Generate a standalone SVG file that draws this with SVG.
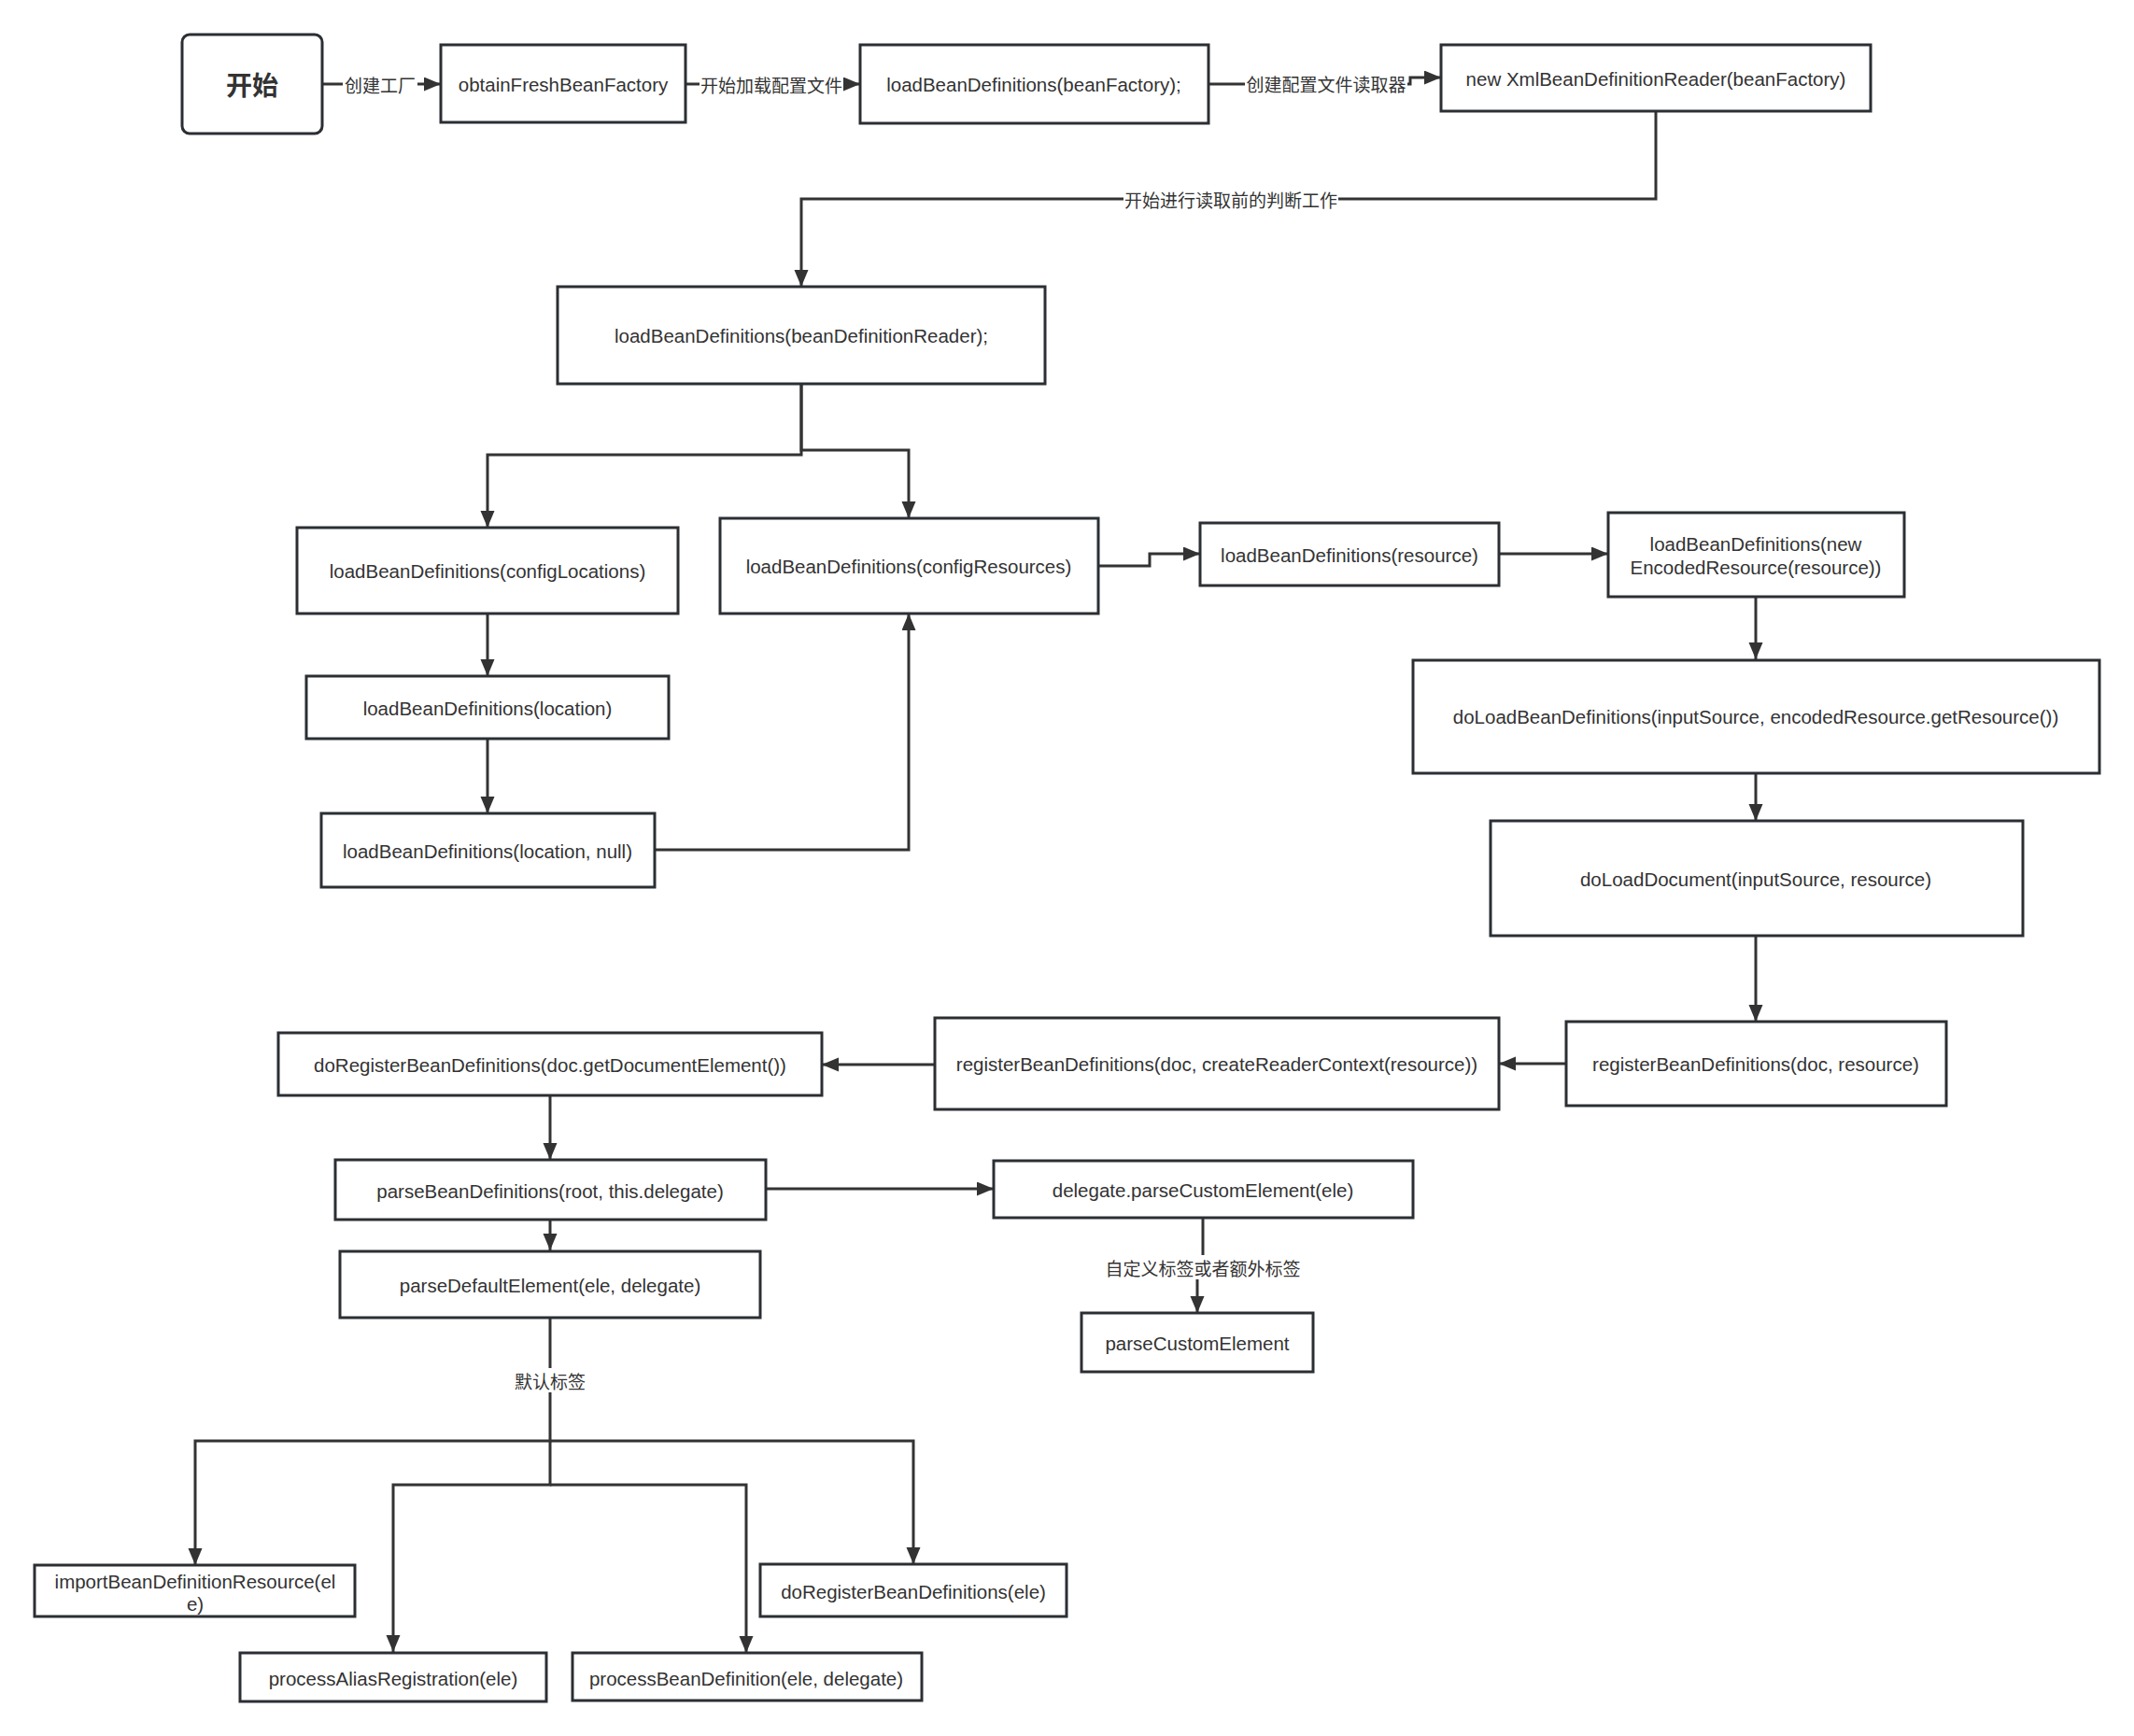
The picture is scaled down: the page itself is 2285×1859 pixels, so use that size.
<svg xmlns="http://www.w3.org/2000/svg" width="2285" height="1859" viewBox="0 0 2285 1859">
<defs>
<style>
.box{fill:#fff;stroke:#2b2f33;stroke-width:3}
.t{font-family:"Liberation Sans",Arial,sans-serif;font-size:20.5px;fill:#333;text-anchor:middle;dominant-baseline:central}
.start{font-family:"Noto Sans CJK SC","Liberation Sans",sans-serif;font-size:28px;font-weight:bold;fill:#333;text-anchor:middle;dominant-baseline:central}
.lbl{font-family:"Noto Sans CJK SC","Liberation Sans",sans-serif;font-size:19px;fill:#333;text-anchor:middle;dominant-baseline:central}
.lb{fill:#fff}
.c{fill:none;stroke:#333;stroke-width:3}
</style>
<marker id="ah" markerUnits="userSpaceOnUse" markerWidth="20" markerHeight="16" refX="18" refY="7.5" orient="auto">
<path d="M0,0 L18,7.5 L0,15 z" fill="#333"/>
</marker>
</defs>
<rect width="2285" height="1859" fill="#fff"/>

<g id="connectors">
<path class="c" d="M345,90 H472" marker-end="url(#ah)"/>
<path class="c" d="M734,90 H921" marker-end="url(#ah)"/>
<path class="c" d="M1294,90 H1510 V83 H1543" marker-end="url(#ah)"/>
<path class="c" d="M1773,119 V213 H858 V307" marker-end="url(#ah)"/>
<path class="c" d="M858,411 V487 H522 V565" marker-end="url(#ah)"/>
<path class="c" d="M858,411 V482 H973 V555" marker-end="url(#ah)"/>
<path class="c" d="M522,657 V724" marker-end="url(#ah)"/>
<path class="c" d="M522,791 V871" marker-end="url(#ah)"/>
<path class="c" d="M701,910 H973 V657" marker-end="url(#ah)"/>
<path class="c" d="M1176,606 H1231 V593 H1285" marker-end="url(#ah)"/>
<path class="c" d="M1605,593 H1722" marker-end="url(#ah)"/>
<path class="c" d="M1880,639 V706" marker-end="url(#ah)"/>
<path class="c" d="M1880,827 V879" marker-end="url(#ah)"/>
<path class="c" d="M1880,1002 V1094" marker-end="url(#ah)"/>
<path class="c" d="M1677,1139 H1605" marker-end="url(#ah)"/>
<path class="c" d="M1001,1140 H880" marker-end="url(#ah)"/>
<path class="c" d="M589,1173 V1242" marker-end="url(#ah)"/>
<path class="c" d="M589,1306 V1339" marker-end="url(#ah)"/>
<path class="c" d="M819,1273 H1064" marker-end="url(#ah)"/>
<path class="c" d="M1288,1304 V1356 H1282 V1406" marker-end="url(#ah)"/>
<path class="c" d="M589,1411 V1543 H209 V1676" marker-end="url(#ah)"/>
<path class="c" d="M589,1543 H978 V1675" marker-end="url(#ah)"/>
<path class="c" d="M589,1543 V1590 H421 V1769" marker-end="url(#ah)"/>
<path class="c" d="M589,1590 H799 V1770" marker-end="url(#ah)"/>
<g id="labels">
<rect class="lb" x="367" y="78" width="80" height="24"/>
<text class="lbl" x="407" y="90">创建工厂</text>
<rect class="lb" x="749" y="78" width="154" height="24"/>
<text class="lbl" x="826" y="90">开始加载配置文件</text>
<rect class="lb" x="1333" y="76" width="174" height="26"/>
<text class="lbl" x="1420" y="89">创建配置文件读取器</text>
<rect class="lb" x="1203" y="201" width="230" height="24"/>
<text class="lbl" x="1318" y="213">开始进行读取前的判断工作</text>
<rect class="lb" x="1182" y="1344" width="212" height="26"/>
<text class="lbl" x="1288" y="1357">自定义标签或者额外标签</text>
<rect class="lb" x="550" y="1465" width="78" height="26"/>
<text class="lbl" x="589" y="1478">默认标签</text>
</g>
</g>

<g id="n-start"><rect class="box" x="195" y="37" width="150" height="106" rx="8"/><text class="start" x="270" y="90">开始</text></g>
<g id="n-obtain"><rect class="box" x="472" y="48" width="262" height="83"/><text class="t" x="603" y="90">obtainFreshBeanFactory</text></g>
<g id="n-lbd-factory"><rect class="box" x="921" y="48" width="373" height="84"/><text class="t" x="1107" y="90">loadBeanDefinitions(beanFactory);</text></g>
<g id="n-xmlreader"><rect class="box" x="1543" y="48" width="460" height="71"/><text class="t" x="1773" y="84">new XmlBeanDefinitionReader(beanFactory)</text></g>
<g id="n-lbd-reader"><rect class="box" x="597" y="307" width="522" height="104"/><text class="t" x="858" y="359">loadBeanDefinitions(beanDefinitionReader);</text></g>
<g id="n-lbd-configlocations"><rect class="box" x="318" y="565" width="408" height="92"/><text class="t" x="522" y="611">loadBeanDefinitions(configLocations)</text></g>
<g id="n-lbd-configresources"><rect class="box" x="771" y="555" width="405" height="102"/><text class="t" x="973" y="606">loadBeanDefinitions(configResources)</text></g>
<g id="n-lbd-location"><rect class="box" x="328" y="724" width="388" height="67"/><text class="t" x="522" y="758">loadBeanDefinitions(location)</text></g>
<g id="n-lbd-location-null"><rect class="box" x="344" y="871" width="357" height="79"/><text class="t" x="522" y="911">loadBeanDefinitions(location, null)</text></g>
<g id="n-lbd-resource"><rect class="box" x="1285" y="560" width="320" height="67"/><text class="t" x="1445" y="594">loadBeanDefinitions(resource)</text></g>
<g id="n-lbd-encoded"><rect class="box" x="1722" y="549" width="317" height="90"/><text class="t" x="1880" y="582">loadBeanDefinitions(new</text><text class="t" x="1880" y="607">EncodedResource(resource))</text></g>
<g id="n-doload-bd"><rect class="box" x="1513" y="707" width="735" height="121"/><text class="t" x="1880" y="767">doLoadBeanDefinitions(inputSource, encodedResource.getResource())</text></g>
<g id="n-doload-doc"><rect class="box" x="1596" y="879" width="570" height="123"/><text class="t" x="1880" y="941">doLoadDocument(inputSource, resource)</text></g>
<g id="n-register"><rect class="box" x="1677" y="1094" width="407" height="90"/><text class="t" x="1880" y="1139">registerBeanDefinitions(doc, resource)</text></g>
<g id="n-register-ctx"><rect class="box" x="1001" y="1090" width="604" height="98"/><text class="t" x="1303" y="1139">registerBeanDefinitions(doc, createReaderContext(resource))</text></g>
<g id="n-doregister-root"><rect class="box" x="298" y="1106" width="582" height="67"/><text class="t" x="589" y="1140">doRegisterBeanDefinitions(doc.getDocumentElement())</text></g>
<g id="n-parse-bd"><rect class="box" x="359" y="1242" width="461" height="64"/><text class="t" x="589" y="1275">parseBeanDefinitions(root, this.delegate)</text></g>
<g id="n-parse-custom"><rect class="box" x="1064" y="1243" width="449" height="61"/><text class="t" x="1288" y="1274">delegate.parseCustomElement(ele)</text></g>
<g id="n-parse-default"><rect class="box" x="364" y="1340" width="450" height="71"/><text class="t" x="589" y="1376">parseDefaultElement(ele, delegate)</text></g>
<g id="n-custom-element"><rect class="box" x="1158" y="1406" width="248" height="63"/><text class="t" x="1282" y="1438">parseCustomElement</text></g>
<g id="n-import"><rect class="box" x="37" y="1676" width="343" height="55"/><text class="t" x="209" y="1693">importBeanDefinitionResource(el</text><text class="t" x="209" y="1717">e)</text></g>
<g id="n-alias"><rect class="box" x="257" y="1770" width="328" height="52"/><text class="t" x="421" y="1797">processAliasRegistration(ele)</text></g>
<g id="n-process-bd"><rect class="box" x="613" y="1770" width="374" height="51"/><text class="t" x="799" y="1797">processBeanDefinition(ele, delegate)</text></g>
<g id="n-doregister-ele"><rect class="box" x="814" y="1675" width="328" height="56"/><text class="t" x="978" y="1704">doRegisterBeanDefinitions(ele)</text></g>
</svg>
